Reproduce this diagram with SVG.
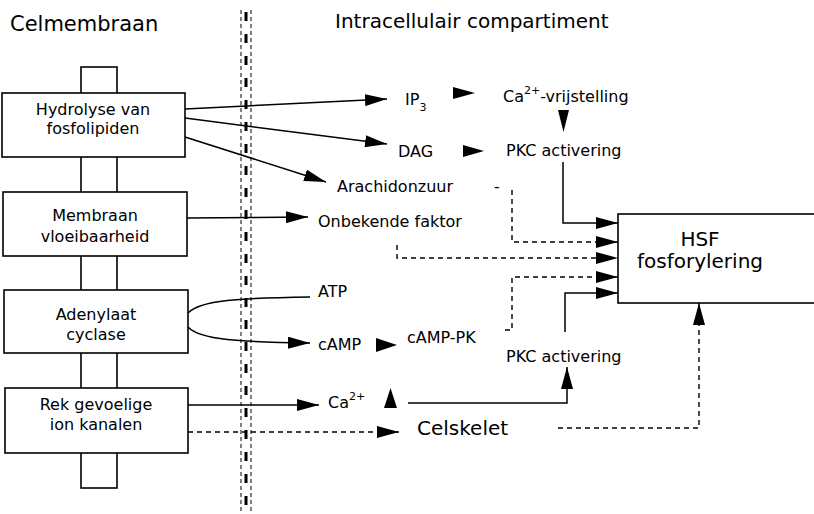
<svg xmlns="http://www.w3.org/2000/svg" width="814" height="514" viewBox="0 0 814 514">
<style>
text{font-family:"DejaVu Sans","Liberation Sans",sans-serif;fill:#000}
.n{font-size:16px}
.c{text-anchor:middle}
.box{fill:#fff;stroke:#000;stroke-width:1.6}
.ln{fill:none;stroke:#000;stroke-width:1.5}
.ds{fill:none;stroke:#000;stroke-width:1.4;stroke-dasharray:5 4}
.tri{fill:#000}
</style>
<defs>
<marker id="ah" markerUnits="userSpaceOnUse" markerWidth="22" markerHeight="12" refX="22" refY="6" orient="auto">
<path d="M0,0 L22,6 L0,12 z" fill="#000"/>
</marker>
</defs>
<rect width="814" height="514" fill="#fff"/>
<text x="10" y="31" font-size="21">Celmembraan</text>
<text x="335" y="28" font-size="20">Intracellulair compartiment</text>
<g id="barrier">
<line x1="241" y1="10" x2="241" y2="514" stroke="#000" stroke-width="1" stroke-dasharray="4 3"/>
<line x1="251" y1="10" x2="251" y2="514" stroke="#000" stroke-width="1" stroke-dasharray="4 3"/>
<line x1="246" y1="12" x2="246" y2="514" stroke="#000" stroke-width="3" stroke-dasharray="9 13"/>
</g>
<g id="membrane-stalk"><rect class="box" x="81" y="67" width="36" height="421"/></g>
<g id="hydrolyse"><rect class="box" x="2" y="93" width="183" height="64"/>
<text class="n c" x="93" y="115">Hydrolyse van</text><text class="n c" x="93" y="134">fosfolipiden</text></g>
<g id="membraan"><rect class="box" x="3" y="192" width="184" height="64"/>
<text class="n c" x="95" y="221">Membraan</text><text class="n c" x="95" y="242">vloeibaarheid</text></g>
<g id="adenylaat"><rect class="box" x="4" y="290" width="184" height="63"/>
<text class="n c" x="96" y="320">Adenylaat</text><text class="n c" x="96" y="340">cyclase</text></g>
<g id="rek"><rect class="box" x="5" y="388" width="183" height="65"/>
<text class="n c" x="96" y="410">Rek gevoelige</text><text class="n c" x="96" y="430">ion kanalen</text></g>
<g id="ip3"><text class="n" x="405" y="105">IP<tspan font-size="11" dy="6">3</tspan></text></g>
<g id="ca-vrij"><text class="n" x="503" y="102">Ca<tspan font-size="11" dy="-8">2+</tspan><tspan dy="8">-vrijstelling</tspan></text></g>
<g id="dag"><text class="n" x="398" y="157">DAG</text></g>
<g id="pkc1"><text class="n" x="506" y="156">PKC activering</text></g>
<g id="arachidonzuur"><text class="n" x="337" y="192">Arachidonzuur</text><text class="n" x="494" y="192">-</text></g>
<g id="onbekende"><text class="n" x="318" y="227">Onbekende faktor</text></g>
<g id="atp"><text class="n" x="318" y="297">ATP</text></g>
<g id="camp"><text class="n" x="318" y="350">cAMP</text></g>
<g id="camp-pk"><text class="n" x="407" y="343">cAMP-PK</text></g>
<g id="pkc2"><text class="n" x="506" y="362">PKC activering</text></g>
<g id="ca2"><text class="n" x="328" y="408">Ca<tspan font-size="11" dy="-8">2+</tspan></text></g>
<g id="celskelet"><text x="417" y="435" font-size="20">Celskelet</text></g>
<g id="hsf"><rect class="box" x="618" y="214" width="210" height="89"/>
<text class="c" x="700" y="246" font-size="20">HSF</text><text class="c" x="700" y="268" font-size="20">fosforylering</text></g>
<g id="connectors">
<path class="ln" d="M185,109 L387,99" marker-end="url(#ah)"/>
<path class="ln" d="M185,118 L387,144" marker-end="url(#ah)"/>
<path class="ln" d="M185,137 L326,182" marker-end="url(#ah)"/>
<path class="ln" d="M187,218 L308,217" marker-end="url(#ah)"/>
<path class="ln" d="M188,313 C200,300 240,298 310,297"/>
<path class="ln" d="M188,327 C200,340 240,342 310,343" marker-end="url(#ah)"/>
<path class="ln" d="M188,405 L319,405" marker-end="url(#ah)"/>
<path class="ds" d="M188,432 L399,432" marker-end="url(#ah)"/>
<path class="ln" d="M408,403 L567,403 L567,367" marker-end="url(#ah)"/>
<path class="ln" d="M563,162 L563,223 L618,223" marker-end="url(#ah)"/>
<path class="ds" d="M512,190 L512,242 L618,242" marker-end="url(#ah)"/>
<path class="ds" d="M397,245 L397,258 L618,258" marker-end="url(#ah)"/>
<path class="ds" d="M505,330 L512,330 L512,277 L618,277" marker-end="url(#ah)"/>
<path class="ln" d="M565,332 L565,293 L618,293" marker-end="url(#ah)"/>
<path class="ds" d="M558,428 L699,428 L699,303" marker-end="url(#ah)"/>
<polygon class="tri" points="453,87 475,93 453,99"/>
<polygon class="tri" points="463,145 484,151 463,157"/>
<polygon class="tri" points="376,338 397,345 376,352"/>
<polygon class="tri" points="558,110 569,110 563.5,132"/>
<polygon class="tri" points="384,408 397,408 390.5,388"/>
</g>
</svg>
